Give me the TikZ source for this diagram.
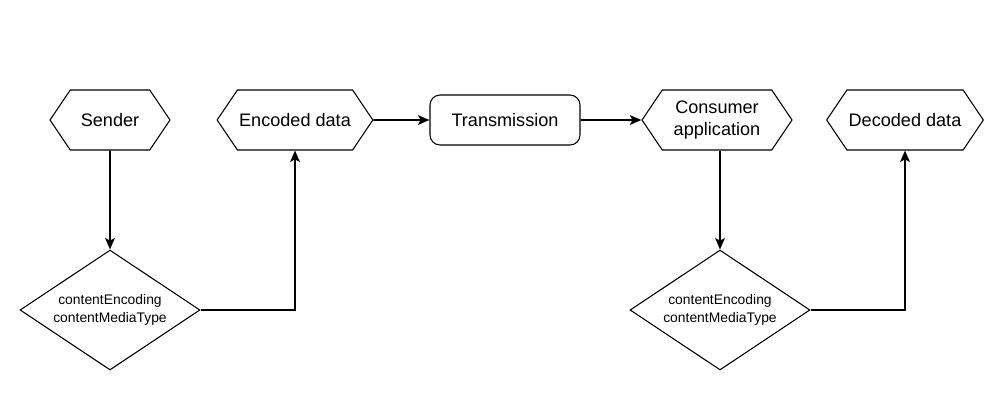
\documentclass[tikz,border=0pt]{standalone}
\usepackage{fontspec}
\setmainfont{Liberation Sans}
\usetikzlibrary{positioning, arrows.meta, shapes.geometric, shapes.symbols}
\tikzset{
  hexbox/.style={
    signal, signal to=east and west, signal pointer angle=112,
    draw, line width=0.6pt, minimum width=3cm, minimum height=1.2cm,
    inner sep=1pt, align=center, font=\fontsize{10.3}{13}\selectfont
  },
  process/.style={
    rectangle, rounded corners=0.2cm, draw, line width=0.6pt,
    minimum width=3cm, minimum height=1cm, font=\fontsize{10.3}{13}\selectfont
  },
  decision/.style={
    diamond, aspect=1.5, draw, line width=0.6pt, inner sep=0pt,
    minimum width=3.6cm, minimum height=2.4cm, align=center,
    font=\fontsize{7.9}{9.8}\selectfont
  },
  flow/.style={draw, line width=1.1pt, -{Stealth[length=6.5pt, width=5.5pt, inset=1.5pt]}},
}
\begin{document}
\begin{tikzpicture}[x=0.02cm, y=-0.02cm]
  \useasboundingbox (0,0) rectangle (1000,400);

  \node[hexbox, minimum width=2.4cm] (sender) at (110,120) {Sender};
  \node[hexbox] (encoded) at (295,120) {Encoded data};
  \node[process] (trans) at (505,120) {Transmission};
  \node[hexbox] (consumer) at (717,120) {Consumer\\application};
  \node[hexbox] (decoded) at (905,120) {Decoded data};

  \node[decision] (encode) at (110,310) {contentEncoding\\contentMediaType};
  \node[decision] (decode) at (720,310) {contentEncoding\\contentMediaType};

  \path[flow] (sender) -- (encode);
  \path[flow] (encode.east) -| (encoded.south);
  \path[flow] (encoded) -- (trans);
  \path[flow] (trans) -- (consumer);
  \path[flow] (consumer.south -| decode.north) -- (decode.north);
  \path[flow] (decode.east) -| (decoded.south);
\end{tikzpicture}
\end{document}
